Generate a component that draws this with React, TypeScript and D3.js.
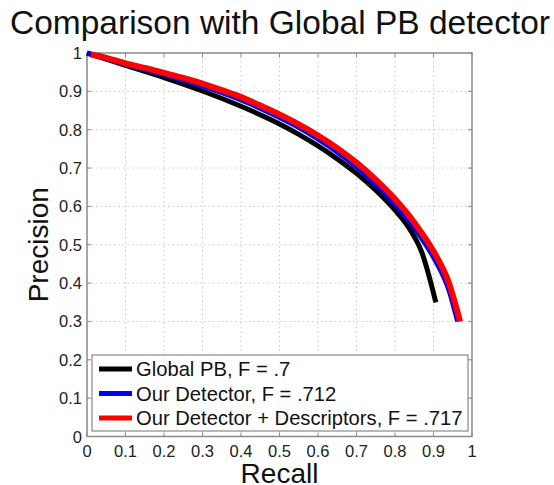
import React from 'react'
import * as d3 from 'd3'

const recallTicks = [0, 0.1, 0.2, 0.3, 0.4, 0.5, 0.6, 0.7, 0.8, 0.9, 1]
const precisionTicks = [0, 0.1, 0.2, 0.3, 0.4, 0.5, 0.6, 0.7, 0.8, 0.9, 1]

const globalPbRecall = [0, 0.1, 0.2, 0.3, 0.4, 0.5, 0.55, 0.6, 0.65, 0.7, 0.75, 0.8, 0.84, 0.869, 0.906]
const globalPbPrecision = [1, 0.968, 0.936, 0.901, 0.861, 0.815, 0.788, 0.758, 0.724, 0.686, 0.642, 0.59, 0.538, 0.482, 0.35]

const detectorRecall = [0, 0.1, 0.2, 0.3, 0.4, 0.5, 0.55, 0.6, 0.65, 0.7, 0.75, 0.8, 0.85, 0.9, 0.94, 0.962]
const detectorPrecision = [1, 0.97, 0.943, 0.913, 0.877, 0.831, 0.805, 0.775, 0.741, 0.702, 0.657, 0.605, 0.543, 0.466, 0.38, 0.3]

const descRecall = [0.01, 0.04, 0.1, 0.15, 0.2, 0.25, 0.3, 0.35, 0.4, 0.45, 0.5, 0.55, 0.6, 0.65, 0.7, 0.75, 0.8, 0.85, 0.9, 0.94, 0.969]
const descPrecision = [0.996, 0.99, 0.973, 0.961, 0.948, 0.935, 0.92, 0.903, 0.885, 0.863, 0.84, 0.814, 0.785, 0.752, 0.714, 0.67, 0.619, 0.558, 0.483, 0.4, 0.3]

const seriesNames = ['Global PB, F = .7', 'Our Detector, F = .712', 'Our Detector + Descriptors, F = .717']
const seriesColors = ['#000000', '#0000ff', '#ff0000']
const seriesWidths = [5, 4.5, 6]

const W = 554
const H = 485
const font = '"Liberation Sans", Arial, Helvetica, sans-serif'

export default function App () {
  const x = d3.scaleLinear().domain([0, 1]).range([87, 472])
  const y = d3.scaleLinear().domain([0, 1]).range([436.5, 53])

  const series = [
    globalPbRecall.map((r, i) => [r, globalPbPrecision[i]]),
    detectorRecall.map((r, i) => [r, detectorPrecision[i]]),
    descRecall.map((r, i) => [r, descPrecision[i]])
  ]

  const line = d3.line<number[]>()
    .x(d => x(d[0]))
    .y(d => y(d[1]))
    .curve(d3.curveMonotoneX)

  const [x0, x1] = x.range()
  const [y0, y1] = y.range()
  const tickLen = 4

  // legend box
  const lg = { left: 92, top: 355, right: 468, bottom: 431 }
  const rowY = [369, 393.5, 418]

  return (
    <svg width={W} height={H} style={{ position: 'absolute', left: 0, top: 0, background: '#fff' }}
      fontFamily={font}>
      <rect x={0} y={0} width={W} height={H} fill='#fff' />
      <text x={280} y={34} fontSize={33.5} textAnchor='middle' fill='#111'>
        Comparison with Global PB detector
      </text>

      {/* grid */}
      {recallTicks.slice(1, -1).map(t => (
        <line key={'gx' + t} x1={x(t)} x2={x(t)} y1={y0} y2={y1}
          stroke='#c8c8c8' strokeWidth={1} strokeDasharray='1.5,3' />
      ))}
      {precisionTicks.slice(1, -1).map(t => (
        <line key={'gy' + t} x1={x0} x2={x1} y1={y(t)} y2={y(t)}
          stroke='#c8c8c8' strokeWidth={1} strokeDasharray='1.5,3' />
      ))}

      {/* ticks on all sides */}
      {recallTicks.map(t => (
        <g key={'tx' + t} stroke='#888' strokeWidth={1}>
          <line x1={x(t)} x2={x(t)} y1={y0} y2={y0 - tickLen} />
          <line x1={x(t)} x2={x(t)} y1={y1} y2={y1 + tickLen} />
        </g>
      ))}
      {precisionTicks.map(t => (
        <g key={'ty' + t} stroke='#888' strokeWidth={1}>
          <line x1={x0} x2={x0 + tickLen} y1={y(t)} y2={y(t)} />
          <line x1={x1} x2={x1 - tickLen} y1={y(t)} y2={y(t)} />
        </g>
      ))}
      <rect x={x0} y={y1} width={x1 - x0} height={y0 - y1} fill='none' stroke='#8a8a8a' strokeWidth={1.5} />

      {/* tick labels */}
      {recallTicks.map(t => (
        <text key={'lx' + t} x={x(t)} y={457} fontSize={16.5} textAnchor='middle' fill='#222'>
          {d3.format('~g')(t)}
        </text>
      ))}
      {precisionTicks.map(t => (
        <text key={'ly' + t} x={82} y={y(t) + 6} fontSize={16.5} textAnchor='end' fill='#222'>
          {d3.format('~g')(t)}
        </text>
      ))}

      {/* curves */}
      {series.map((s, i) => (
        <path key={'s' + i} d={line(s) || ''} fill='none' stroke={seriesColors[i]}
          strokeWidth={seriesWidths[i]} strokeLinejoin='round' />
      ))}

      {/* axis titles */}
      <text x={x(0.5)} y={483} fontSize={28} textAnchor='middle' fill='#111'>Recall</text>
      <text transform={`translate(48,${(y0 + y1) / 2}) rotate(-90)`} fontSize={28}
        textAnchor='middle' fill='#111'>Precision</text>

      {/* legend */}
      <rect x={lg.left} y={lg.top} width={lg.right - lg.left} height={lg.bottom - lg.top}
        fill='#fff' stroke='#8a8a8a' strokeWidth={1.2} />
      {seriesNames.map((name, i) => (
        <g key={'lg' + i}>
          <line x1={99} x2={132} y1={rowY[i]} y2={rowY[i]} stroke={seriesColors[i]} strokeWidth={5} />
          <text x={136} y={rowY[i] + 7} fontSize={20.2} fill='#111'>{name}</text>
        </g>
      ))}
    </svg>
  )
}
